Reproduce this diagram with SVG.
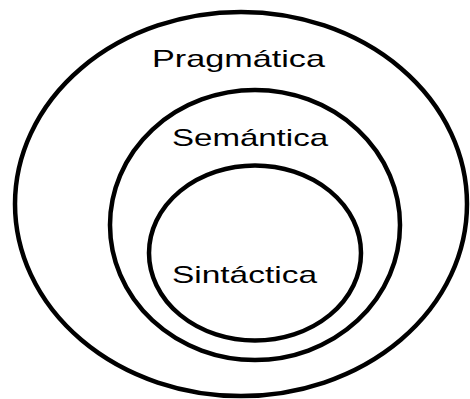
<svg xmlns="http://www.w3.org/2000/svg" width="470" height="399" viewBox="0 0 470 399">
<style>
.ring{fill:none;stroke:#000;stroke-width:4.5}
.lbl{font-family:"Liberation Sans",Arial,sans-serif;font-size:24px;fill:#000}
</style>
<rect width="470" height="399" fill="#fff"/>
<g id="pragmatica">
<ellipse class="ring" cx="241" cy="204" rx="226" ry="192"/>
<text class="lbl" x="152" y="67" textLength="173" lengthAdjust="spacingAndGlyphs">Pragmática</text>
</g>
<g id="semantica">
<ellipse class="ring" cx="255" cy="225" rx="145" ry="135"/>
<text class="lbl" x="172" y="146" textLength="156" lengthAdjust="spacingAndGlyphs">Semántica</text>
</g>
<g id="sintactica">
<ellipse class="ring" cx="255" cy="253" rx="106" ry="87.5"/>
<text class="lbl" x="172" y="283" textLength="145" lengthAdjust="spacingAndGlyphs">Sintáctica</text>
</g>
<g id="connectors"/>
</svg>
